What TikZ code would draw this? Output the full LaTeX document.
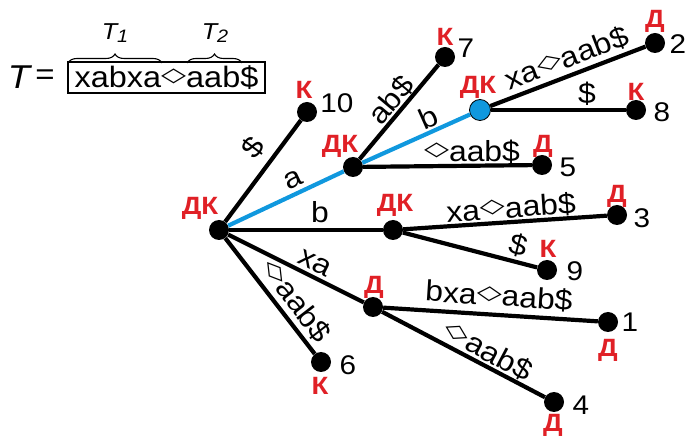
\documentclass[tikz,border=0pt]{standalone}
\usepackage{fontspec}
\setmainfont{Liberation Sans}[FakeStretch=1.1]
\newfontfamily\dv{DejaVu Sans}
\usepackage{graphicx}
\usetikzlibrary{decorations.pathreplacing}
\definecolor{rd}{RGB}{224,32,38}
\definecolor{bl}{RGB}{16,152,222}
\newcommand\dm{\raisebox{3.5pt}{\resizebox*{25pt}{15pt}{\raisebox{\depth}{\dv ◇}}}}
\begin{document}
\begin{tikzpicture}[x=1pt,y=-1pt,
 dot/.style={circle,fill=black,inner sep=0pt,minimum size=20pt},
 bdot/.style={circle,fill=bl,draw=black,line width=0.8pt,inner sep=0pt,minimum size=21pt},
 edge/.style={line width=4.2pt},
 bedge/.style={line width=4.2pt,draw=bl},
 lbl/.style={inner sep=0pt,font=\fontsize{29}{29}\selectfont},
 tag/.style={inner sep=0pt,text=rd,font=\fontsize{25}{25}\selectfont\bfseries},
 num/.style={inner sep=0pt,font=\fontsize{27}{27}\selectfont},
 brc/.style={decorate,decoration={brace,amplitude=9pt},line width=1.1pt}]
\useasboundingbox (0,0) rectangle (686,438);
% header
\node[inner sep=0pt,font=\fontsize{33}{33}\selectfont\itshape] (T) at (19,77) {T};
\node[inner sep=0pt,font=\fontsize{30}{30}\selectfont] (eq) at (45,77) {=};
\node[draw,line width=1.2pt,inner sep=0pt,minimum width=197pt,minimum height=31pt,
      font=\fontsize{29.5}{29.5}\selectfont] (box) at (166.5,77.5) {xabxa\dm aab\$};
\coordinate (b1s) at (68,63); \coordinate (b1e) at (162,63);
\coordinate (b2s) at (187,63); \coordinate (b2e) at (242,63);
\draw[brc] (b1s) -- (b1e);
\draw[brc] (b2s) -- (b2e);
\node[inner sep=0pt,font=\fontsize{23}{23}\selectfont\itshape] (T1) at (115,33) {T\raisebox{-3pt}{\fontsize{18}{18}\selectfont 1}};
\node[inner sep=0pt,font=\fontsize{23}{23}\selectfont\itshape] (T2) at (215,33) {T\raisebox{-3pt}{\fontsize{18}{18}\selectfont 2}};
% tree nodes
\node[dot] (r) at (219,230) {};
\node[dot] (n10) at (307,112) {};
\node[dot] (na) at (353,167) {};
\node[dot] (n7) at (445,57) {};
\node[bdot] (nab) at (480,110) {};
\node[dot] (n2) at (655,43) {};
\node[dot] (n8) at (636,110) {};
\node[dot] (n5) at (542,165) {};
\node[dot] (nb) at (393,230) {};
\node[dot] (n3) at (617,215) {};
\node[dot] (n9) at (547,270) {};
\node[dot] (nxa) at (373,307) {};
\node[dot] (n1) at (608,322) {};
\node[dot] (n4) at (554,402) {};
\node[dot] (n6) at (321,362) {};
% edges
\draw[edge] (r) -- (n10);
\draw[edge] (r) -- (nb);
\draw[edge] (r) -- (nxa);
\draw[edge] (r) -- (n6);
\draw[edge] (na) -- (n7);
\draw[edge] (na) -- (n5);
\draw[edge] (nab) -- (n2);
\draw[edge] (nab) -- (n8);
\draw[edge] (nb) -- (n3);
\draw[edge] (nb) -- (n9);
\draw[edge] (nxa) -- (n1);
\draw[edge] (nxa) -- (n4);
\draw[bedge] (r) -- (na);
\draw[bedge] (na) -- (nab);
% edge labels
\node[lbl,rotate=53] (l10) at (253,148) {\$};
\node[lbl,rotate=25] (la) at (293,180) {a};
\node[lbl,rotate=50] (l7) at (391,100) {ab\$};
\node[lbl,rotate=24] (lab) at (428,117) {b};
\node[lbl,rotate=21] (l2) at (567,58) {xa\dm aab\$};
\node[lbl] (l8) at (587,94) {\$};
\node[lbl] (l5) at (472,152) {\dm aab\$};
\node[lbl] (lb) at (320,212) {b};
\node[lbl,rotate=4] (l3) at (511,208) {xa\dm aab\$};
\node[lbl,rotate=-14.6] (l9) at (519,245) {\$};
\node[lbl,rotate=-26.6] (lxa) at (315,263) {xa};
\node[lbl,rotate=-3.7] (l1) at (499,296) {bxa\dm aab\$};
\node[lbl,rotate=-28] (l4) at (488,351) {\dm aab\$};
\node[lbl,rotate=-52.3] (l6) at (296,301) {\dm aab\$};
% red tags
\node[tag] (tr) at (200,208) {ДК};
\node[tag] (ta) at (340,146) {ДК};
\node[tag] (tab) at (478,87) {ДК};
\node[tag] (tb) at (395,205) {ДК};
\node[tag] (txa) at (374,287) {Д};
\node[tag] (t10) at (304,90) {К};
\node[tag] (t7) at (445,37) {К};
\node[tag] (t2) at (655,21) {Д};
\node[tag] (t8) at (636,92) {К};
\node[tag] (t5) at (543,146) {Д};
\node[tag] (t3) at (617,196) {Д};
\node[tag] (t9) at (548,249) {К};
\node[tag] (t1) at (608,350) {Д};
\node[tag] (t4) at (553,425) {Д};
\node[tag] (t6) at (320,386) {К};
% numbers
\node[num] (m10) at (337,103) {10};
\node[num] (m7) at (466,48) {7};
\node[num] (m2) at (678,44) {2};
\node[num] (m8) at (662,112) {8};
\node[num] (m5) at (568,167) {5};
\node[num] (m3) at (642,218) {3};
\node[num] (m9) at (575,271) {9};
\node[num] (m1) at (630,322) {1};
\node[num] (m4) at (581,405) {4};
\node[num] (m6) at (348,365) {6};
\end{tikzpicture}
\end{document}
